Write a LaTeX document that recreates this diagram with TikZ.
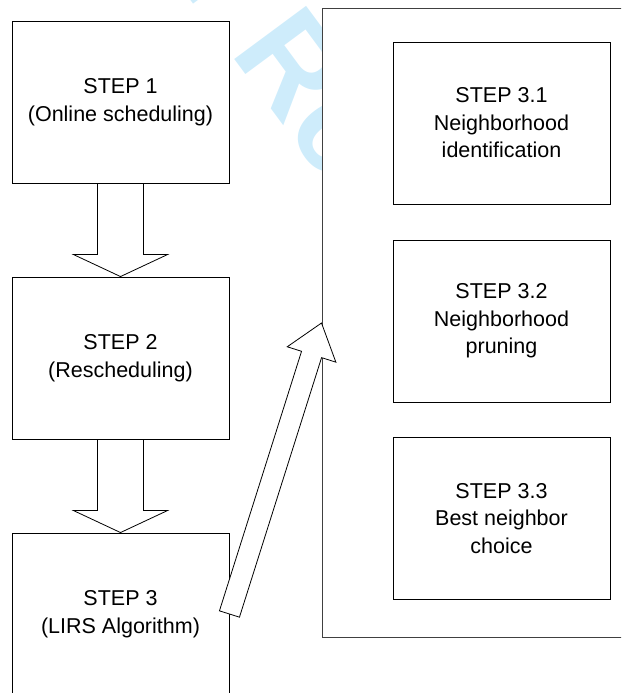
\documentclass[tikz,border=0pt]{standalone}
\usepackage{fontspec}
\setmainfont{Liberation Sans}
\usepackage{tikz}
\usetikzlibrary{calc,positioning}
\usepackage{xcolor}
\definecolor{filigrane}{RGB}{206,236,251}

% fleche creuse : depart, arrivee, demi-largeur tige, demi-largeur tete, longueur tete
\newcommand{\flechecreuse}[5]{%
	\coordinate (base) at ($(#2)!#5!(#1)$);
	\draw[fleche] ($(#1)!#3!90:(#2)$) -- ($(base)!#3!90:(#2)$) -- ($(base)!#4!90:(#2)$)
		-- (#2) -- ($(base)!#4!-90:(#2)$) -- ($(base)!#3!-90:(#2)$) -- ($(#1)!#3!-90:(#2)$) -- cycle;
}

\begin{document}
\begin{tikzpicture}[
		x=1pt, y=-1pt,
		boite/.style={draw, fill=white, line width=0.9pt, minimum width=217pt, minimum height=162pt,
			inner sep=0pt, align=center, font=\fontsize{21.5}{27.5}\selectfont},
		cadre/.style={draw=black!75, fill=white, line width=1pt, minimum width=380pt, minimum height=628pt, inner sep=0pt},
		fleche/.style={draw, fill=white, line width=0.8pt, line join=miter},
		marque/.style={text=filigrane, font=\bfseries\fontsize{130}{130}\selectfont, inner sep=0pt}
		]
		\clip (0,0) rectangle (621,693);
		
		% Le filigrane
		\node[marque, rotate=-53.5, anchor=base west] (filig) at (229,52) {\llap{For Peer }Review};
		
		% Le cadre de l'etape 3
		\node[cadre] (lirs) at (512,323) {};
		\node[boite] (etape31) at (501.5,123) {STEP 3.1\\Neighborhood\\identification};
		\node[boite] (etape32) at (501.5,321) {STEP 3.2\\Neighborhood\\pruning};
		\node[boite] (etape33) at (501.5,518.5) {STEP 3.3\\Best neighbor\\choice};
		
		% Les etapes
		\node[boite] (etape1) at (120.5,102) {STEP 1\\(Online scheduling)};
		\node[boite] (etape2) at (120.5,358) {STEP 2\\(Rescheduling)};
		\node[boite] (etape3) at (120.5,614) {STEP 3\\(LIRS Algorithm)};
		
		% Les fleches
		\flechecreuse{etape1.south}{etape2.north}{23pt}{47pt}{22pt}
		\flechecreuse{etape2.south}{etape3.north}{23pt}{47pt}{22pt}
		\flechecreuse{etape3.east}{lirs.west}{10.5pt}{25.5pt}{33pt}
	\end{tikzpicture}
\end{document}
